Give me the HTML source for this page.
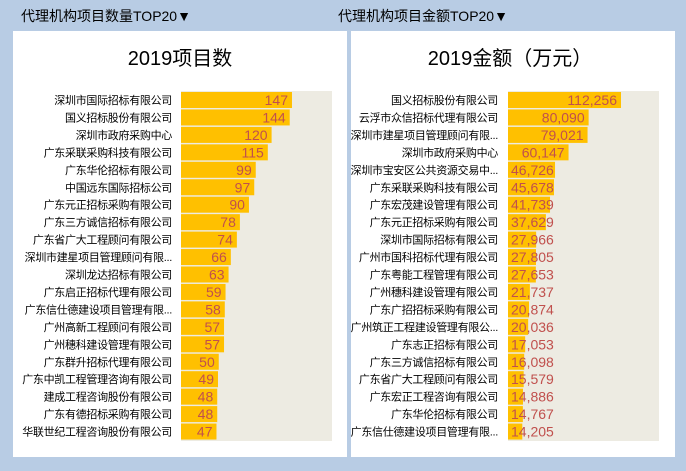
<!DOCTYPE html>
<html><head><meta charset="utf-8">
<style>
body{margin:0;width:686px;height:471px;background:#b8cce4;overflow:hidden;font-family:"Liberation Sans","Noto Sans CJK SC",sans-serif;}
svg{position:absolute;left:0;top:0}
</style></head>
<body>
<svg width="686" height="471">
<text x="21" y="21" font-size="14" fill="#000">代理机构项目数量TOP20▼</text>
<text x="338" y="21" font-size="14" fill="#000">代理机构项目金额TOP20▼</text>
<rect x="13" y="31" width="334" height="426" fill="#fff"/>
<rect x="351" y="31" width="324" height="426" fill="#fff"/>
<text x="180" y="65" font-size="20" text-anchor="middle">2019项目数</text>
<text x="510" y="65" font-size="20" text-anchor="middle">2019金额（万元）</text>
<g id="left"></g><g id="right"></g>
</svg>
<script>
const countNames=["深圳市国际招标有限公司","国义招标股份有限公司","深圳市政府采购中心","广东采联采购科技有限公司","广东华伦招标有限公司","中国远东国际招标公司","广东元正招标采购有限公司","广东三方诚信招标有限公司","广东省广大工程顾问有限公司","深圳市建星项目管理顾问有限...","深圳龙达招标有限公司","广东启正招标代理有限公司","广东信仕德建设项目管理有限...","广州高新工程顾问有限公司","广州穗科建设管理有限公司","广东群升招标代理有限公司","广东中凯工程管理咨询有限公司","建成工程咨询股份有限公司","广东有德招标采购有限公司","华联世纪工程咨询股份有限公司"];
const countValues=[147,144,120,115,99,97,90,78,74,66,63,59,58,57,57,50,49,48,48,47];
const amountNames=["国义招标股份有限公司","云浮市众信招标代理有限公司","深圳市建星项目管理顾问有限...","深圳市政府采购中心","深圳市宝安区公共资源交易中...","广东采联采购科技有限公司","广东宏茂建设管理有限公司","广东元正招标采购有限公司","深圳市国际招标有限公司","广州市国科招标代理有限公司","广东粤能工程管理有限公司","广州穗科建设管理有限公司","广东广招招标采购有限公司","广州筑正工程建设管理有限公...","广东志正招标有限公司","广东三方诚信招标有限公司","广东省广大工程顾问有限公司","广东宏正工程咨询有限公司","广东华伦招标有限公司","广东信仕德建设项目管理有限..."];
const amountValues=[112256,80090,79021,60147,46726,45678,41739,37629,27966,27805,27653,21737,20874,20036,17053,16098,15579,14886,14767,14205];
const NS="http://www.w3.org/2000/svg";
function mk(tag,attrs,parent){const e=document.createElementNS(NS,tag);for(const k in attrs)e.setAttribute(k,attrs[k]);parent.appendChild(e);return e;}
function draw(gid,names,vals,x0,labelX,max,fmt,prefix){
  const g=document.getElementById(gid);
  const W=151,top=91,pitch=17.45,bh=16;
  const xs=v=>v/max*W;
  const bg=mk('rect',{x:x0,y:top,width:W,height:pitch*20+1,fill:'#edebe2'},g);
  
  
  names.forEach((n,i)=>{
    const y=top+1+i*pitch;
    const t=mk('text',{x:labelX,y:y+12,'font-size':11,'letter-spacing':'-0.3','text-anchor':'end',fill:'#000'},g);
    t.textContent=n;
    
    
    const w=xs(vals[i]);
    const b=mk('rect',{x:x0,y:y,width:w,height:bh,fill:'#ffc000'},g);
    
    
    const v=mk('text',{x:0,y:y+13,'font-size':14,'text-anchor':'end',fill:'#c0504d'},g);
    v.textContent=fmt(vals[i]);
    
    
    const tw=v.getComputedTextLength();
    v.setAttribute('x',Math.max(x0+w-4,x0+tw+3));
  });
}
draw('left',countNames,countValues,181,172,200,v=>String(v),'count');
draw('right',amountNames,amountValues,508,498,150000,v=>v.toLocaleString('en-US'),'amount');
</script>
</body></html>
